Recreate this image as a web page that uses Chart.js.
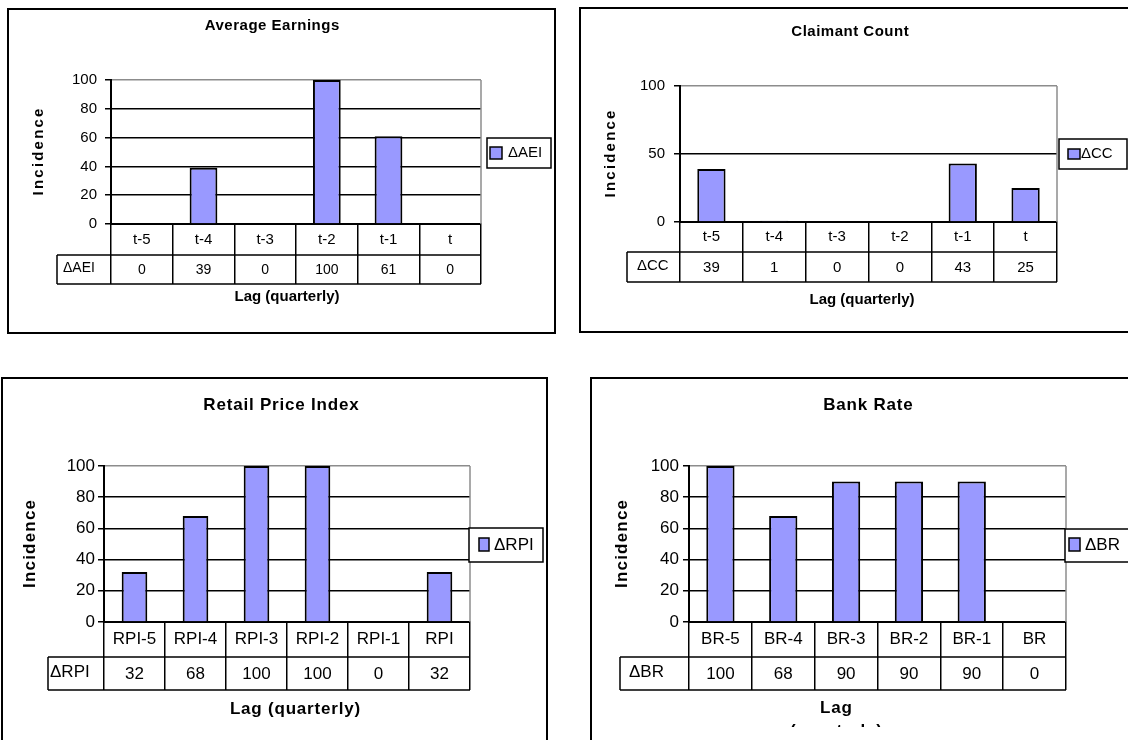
<!DOCTYPE html>
<html>
<head>
<meta charset="utf-8">
<title>Incidence by lag</title>
<script src="https://cdn.jsdelivr.net/npm/chart.js@4.4.0/dist/chart.umd.min.js"></script>
<style>
  html, body { margin: 0; padding: 0; background: #fff; width: 1128px; height: 740px; overflow: hidden; }
  .panel { position: absolute; border: 2px solid #000; box-sizing: border-box; overflow: hidden; background: #fff; }
  .panel canvas { position: absolute; left: 0; top: 0; }
</style>
</head>
<body>
<div class="panel" id="p1"><canvas></canvas></div>
<div class="panel" id="p2"><canvas></canvas></div>
<div class="panel" id="p3"><canvas></canvas></div>
<div class="panel" id="p4"><canvas></canvas></div>

<script>
Chart.defaults.font.family = '"Liberation Sans", Arial, Helvetica, sans-serif';
Chart.defaults.color = '#000';

// ---- data ----
var lagLabels = ['t-5', 't-4', 't-3', 't-2', 't-1', 't'];
var rpiLabels = ['RPI-5', 'RPI-4', 'RPI-3', 'RPI-2', 'RPI-1', 'RPI'];
var brLabels  = ['BR-5', 'BR-4', 'BR-3', 'BR-2', 'BR-1', 'BR'];

var aeiValues = [0, 39, 0, 100, 61, 0];
var ccValues  = [39, 1, 0, 0, 43, 25];
var rpiValues = [32, 68, 100, 100, 0, 32];
var brValues  = [100, 68, 90, 90, 90, 0];

var chartTitles = ['Average Earnings', 'Claimant Count', 'Retail Price Index', 'Bank Rate'];
var seriesNames = ['\u0394AEI', '\u0394CC', '\u0394RPI', '\u0394BR'];
var yTickSteps  = [20, 50, 20, 20];
var yAxisMax    = 100;
var yAxisTitle  = 'Incidence';
var xAxisTitle  = 'Lag (quarterly)';

var BAR_FILL = '#9999ff';

// ---- page layout of the four boxes (page pixels) ----
var panels = [
  { id: 'p1', labels: lagLabels, values: aeiValues, step: yTickSteps[0], title: chartTitles[0], series: seriesNames[0],
    box: [7, 8, 556, 334], plot: [111, 80, 481, 224], rows: [255, 284], hdr: [57, 63],
    titleAt: [272, 26], yTitleX: 39, xTitleAt: [287, 297], wrapX: false,
    legend: [487, 138, 551, 168], swatch: [490, 147, 12, 12], legendTextX: 508,
    size: { title: 15, tick: 15, cat: 15, cell: 14, axis: 15, legend: 15 },
    spacing: { title: 0.5, y: 2.2, x: 0 }, tickPad: 8, barPct: 0.45 },
  { id: 'p2', labels: lagLabels, values: ccValues, step: yTickSteps[1], title: chartTitles[1], series: seriesNames[1],
    box: [579, 7, 1140, 333], plot: [680, 86, 1057, 222], rows: [252, 282], hdr: [627, 637],
    titleAt: [850, 32], yTitleX: 611, xTitleAt: [862, 300], wrapX: false,
    legend: [1059, 139, 1127, 169], swatch: [1068, 149, 12, 10], legendTextX: 1081,
    size: { title: 15, tick: 15, cat: 15, cell: 15, axis: 15, legend: 15 },
    spacing: { title: 0.5, y: 2.2, x: 0 }, tickPad: 9, barPct: 0.45 },
  { id: 'p3', labels: rpiLabels, values: rpiValues, step: yTickSteps[2], title: chartTitles[2], series: seriesNames[2],
    box: [1, 377, 548, 760], plot: [104, 466, 470, 622], rows: [657, 690], hdr: [48, 50],
    titleAt: [281, 405], yTitleX: 30, xTitleAt: [295, 709], wrapX: false,
    legend: [469, 528, 543, 562], swatch: [479, 538, 10, 13], legendTextX: 494,
    size: { title: 17, tick: 17, cat: 17, cell: 17, axis: 17, legend: 17 },
    spacing: { title: 0.8, y: 1.2, x: 0.8 }, tickPad: 3, barPct: 0.42 },
  { id: 'p4', labels: brLabels, values: brValues, step: yTickSteps[3], title: chartTitles[3], series: seriesNames[3],
    box: [590, 377, 1150, 760], plot: [689, 466, 1066, 622], rows: [657, 690], hdr: [620, 629],
    titleAt: [868, 405], yTitleX: 622, xTitleAt: [836, 708], wrapX: true, clipY: 727,
    legend: [1065, 529, 1135, 562], swatch: [1069, 538, 11, 13], legendTextX: 1085,
    size: { title: 17, tick: 17, cat: 17, cell: 17, axis: 17, legend: 17 },
    spacing: { title: 0.8, y: 1.2, x: 0.8 }, tickPad: 4, barPct: 0.45 }
];

function fontStr(px, bold) {
  return (bold ? 'bold ' : '') + px + 'px "Liberation Sans", Arial, Helvetica, sans-serif';
}

// centred text with optional letter spacing (Excel's charts print titles wide)
function spacedText(ctx, text, x, y, spacing) {
  ctx.letterSpacing = spacing + 'px';
  ctx.fillText(text, x + spacing / 2, y);
  ctx.letterSpacing = '0px';
}

/*
 * Draws the Excel-style pieces around the plot: data table lines and
 * values, the boxed legend, the chart title and both axis titles.
 */
function excelExtras(p, ox, oy) {
  return {
    id: 'excelExtras',
    afterDraw: function(chart) {
      var ctx = chart.ctx;
      var area = chart.chartArea;
      var xs = chart.scales.x;
      var r1 = p.rows[0] - oy, r2 = p.rows[1] - oy;
      var hl = p.hdr[0] - ox;
      ctx.save();

      // grey plot-area frame on the right
      ctx.strokeStyle = '#8c8c8c';
      ctx.lineWidth = 1.5;
      ctx.beginPath();
      ctx.moveTo(area.right, area.top);
      ctx.lineTo(area.right, area.bottom);
      ctx.stroke();

      // table rows + header cell
      ctx.strokeStyle = '#000';
      ctx.lineWidth = 1.5;
      ctx.beginPath();
      ctx.moveTo(hl, r1); ctx.lineTo(area.right, r1);
      ctx.moveTo(hl, r2); ctx.lineTo(area.right, r2);
      ctx.moveTo(hl, r1); ctx.lineTo(hl, r2);
      ctx.stroke();

      ctx.fillStyle = '#000';
      ctx.font = fontStr(p.size.cell, false);
      ctx.textBaseline = 'middle';
      ctx.textAlign = 'center';
      var rowMid = (r1 + r2) / 2;
      for (var i = 0; i < p.values.length; i++) {
        ctx.fillText(String(p.values[i]), xs.getPixelForValue(i), rowMid + 1);
      }
      ctx.textAlign = 'left';
      ctx.fillText(p.series, p.hdr[1] - ox, rowMid - 1);

      // legend box
      var lg = p.legend;
      ctx.fillStyle = '#fff';
      ctx.fillRect(lg[0] - ox, lg[1] - oy, lg[2] - lg[0], lg[3] - lg[1]);
      ctx.strokeStyle = '#000';
      ctx.lineWidth = 1.5;
      ctx.strokeRect(lg[0] - ox, lg[1] - oy, lg[2] - lg[0], lg[3] - lg[1]);
      var sw = p.swatch;
      ctx.fillStyle = chart.data.datasets[0].backgroundColor;
      ctx.fillRect(sw[0] - ox, sw[1] - oy, sw[2], sw[3]);
      ctx.strokeRect(sw[0] - ox, sw[1] - oy, sw[2], sw[3]);
      ctx.fillStyle = '#000';
      ctx.font = fontStr(p.size.legend, false);
      ctx.fillText(chart.data.datasets[0].label, p.legendTextX - ox, (lg[1] + lg[3]) / 2 - oy);

      // chart title
      ctx.textAlign = 'center';
      ctx.font = fontStr(p.size.title, true);
      spacedText(ctx, p.title, p.titleAt[0] - ox, p.titleAt[1] - oy, p.spacing.title);

      // x axis title (Bank Rate one is wrapped and clipped like the original)
      ctx.font = fontStr(p.size.axis, true);
      var lines = p.wrapX ? xAxisTitle.split(' ') : [xAxisTitle];
      for (var j = 0; j < lines.length; j++) {
        spacedText(ctx, lines[j], p.xTitleAt[0] - ox, p.xTitleAt[1] - oy + j * p.size.axis * 1.35, p.spacing.x);
      }

      // y axis title, rotated
      ctx.translate(p.yTitleX - ox, (area.top + area.bottom) / 2);
      ctx.rotate(-Math.PI / 2);
      spacedText(ctx, yAxisTitle, 0, 0, p.spacing.y);
      ctx.restore();
    }
  };
}

function buildPanel(p) {
  var div = document.getElementById(p.id);
  div.style.left = p.box[0] + 'px';
  div.style.top = p.box[1] + 'px';
  div.style.width = (p.box[2] - p.box[0]) + 'px';
  div.style.height = (p.box[3] - p.box[1]) + 'px';

  var ox = p.box[0] + 2, oy = p.box[1] + 2;
  var W = p.box[2] - p.box[0] - 4;
  var H = (p.clipY || p.box[3] - 2) - oy;
  var canvas = div.querySelector('canvas');
  canvas.width = W;
  canvas.height = H;

  var plotL = p.plot[0] - ox, plotT = p.plot[1] - oy, plotR = p.plot[2] - ox, plotB = p.plot[3] - oy;
  var xHeight = H - plotB;
  var tableH = p.rows[1] - p.plot[3];
  var row1Mid = (p.rows[0] - p.plot[3]) / 2;
  var catLH = p.size.cat * 1.2;

  new Chart(canvas, {
    type: 'bar',
    data: {
      labels: p.labels,
      datasets: [{
        label: p.series,
        data: p.values,
        backgroundColor: BAR_FILL,
        borderColor: '#000',
        borderWidth: 2,
        barPercentage: p.barPct,
        categoryPercentage: 1
      }]
    },
    options: {
      responsive: false,
      animation: false,
      devicePixelRatio: 1,
      layout: { padding: { left: 0, top: plotT, right: W - plotR, bottom: 0 } },
      plugins: {
        legend: { display: false },
        title: { display: false },
        tooltip: { enabled: false }
      },
      scales: {
        x: {
          type: 'category',
          offset: true,
          grid: {
            display: true,
            offset: true,
            drawOnChartArea: false,
            drawTicks: true,
            tickLength: tableH,
            color: '#000',
            lineWidth: 1.5
          },
          border: { color: '#000', width: 2 },
          ticks: {
            font: { size: p.size.cat },
            color: '#000',
            maxRotation: 0,
            minRotation: 0,
            autoSkip: false,
            padding: row1Mid - tableH - catLH / 2
          },
          afterFit: function(scale) { scale.height = xHeight; }
        },
        y: {
          min: 0,
          max: yAxisMax,
          ticks: { stepSize: p.step, font: { size: p.size.tick }, color: '#000', padding: p.tickPad },
          grid: {
            color: function(c) { return c.tick && c.tick.value === yAxisMax ? '#8c8c8c' : '#000'; },
            lineWidth: 1.5,
            drawTicks: true,
            tickLength: 6,
            tickColor: '#000',
            tickWidth: 1.5
          },
          border: { color: '#000', width: 2 },
          afterFit: function(scale) { scale.width = plotL; }
        }
      }
    },
    plugins: [excelExtras(p, ox, oy)]
  });
}

panels.forEach(buildPanel);
</script>
</body>
</html>
